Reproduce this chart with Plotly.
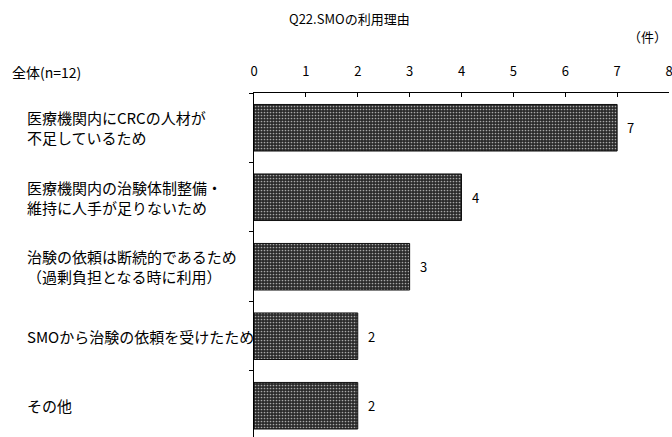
import plotly.graph_objects as go

categories = [
    "医療機関内にCRCの人材が<br>不足しているため",
    "医療機関内の治験体制整備・<br>維持に人手が足りないため",
    "治験の依頼は断続的であるため<br>（過剰負担となる時に利用）",
    "SMOから治験の依頼を受けたため",
    "その他",
]
values = [7, 4, 3, 2, 2]
x_ticks = [0, 1, 2, 3, 4, 5, 6, 7, 8]
title_text = "Q22.SMOの利用理由"
unit_text = "（件）"
total_text = "全体(n=12)"

FONT = "Noto Sans CJK JP"
ypos = list(range(len(categories)))

fig = go.Figure()
fig.add_trace(go.Bar(
    x=values, y=ypos, orientation="h", width=0.67,
    marker=dict(
        color="#2a2a2a",
        line=dict(color="#111111", width=1),
        pattern=dict(shape=".", fgcolor="#a8a8a8", bgcolor="#2a2a2a", size=3, solidity=0.25, fillmode="replace"),
    ),
    showlegend=False, hoverinfo="skip",
))

for i, v in enumerate(values):
    fig.add_annotation(xref="x", yref="y", x=v, y=i, text=str(v), xshift=8,
                       xanchor="left", yanchor="middle", showarrow=False,
                       font=dict(family=FONT, size=13, color="#000"))

for i, c in enumerate(categories):
    fig.add_annotation(xref="paper", yref="y", x=-0.552, y=i, text=c,
                       xanchor="left", yanchor="middle", align="left", showarrow=False,
                       font=dict(family=FONT, size=15, color="#000"))

fig.add_annotation(xref="paper", yref="paper", x=0.23, y=1.218, text=title_text,
                   xanchor="center", yanchor="middle", showarrow=False,
                   font=dict(family=FONT, size=13, color="#000"))
fig.add_annotation(xref="paper", yref="paper", x=1.0, y=1.165, text=unit_text,
                   xanchor="right", yanchor="middle", showarrow=False,
                   font=dict(family=FONT, size=13, color="#000"))
fig.add_annotation(xref="paper", yref="paper", x=-0.588, y=1.06, text=total_text,
                   xanchor="left", yanchor="middle", showarrow=False,
                   font=dict(family=FONT, size=14, color="#000"))

fig.update_layout(
    width=672, height=437,
    margin=dict(l=254, r=3, t=93, b=0),
    paper_bgcolor="white", plot_bgcolor="white",
    font=dict(family=FONT, color="#000"),
)
fig.update_xaxes(
    side="top", range=[0, 8], tickvals=x_ticks, ticktext=[str(t) for t in x_ticks],
    showgrid=False, zeroline=False, showline=True, linecolor="#000", linewidth=1,
    ticks="inside", ticklen=4, tickcolor="#000", ticklabelstandoff=11,
    ticklabeloverflow="allow",
    tickfont=dict(family=FONT, size=13, color="#000"),
)
fig.update_yaxes(
    range=[4.45, -0.5], tickvals=[-0.5, 0.5, 1.5, 2.5, 3.5, 4.5], showticklabels=False,
    showgrid=False, zeroline=False, showline=True, linecolor="#000", linewidth=1,
    ticks="outside", ticklen=4, tickcolor="#000",
)

fig.write_html("out.html", config={"displayModeBar": False},
               post_script="document.body.style.margin='0';document.body.style.overflow='hidden';")
